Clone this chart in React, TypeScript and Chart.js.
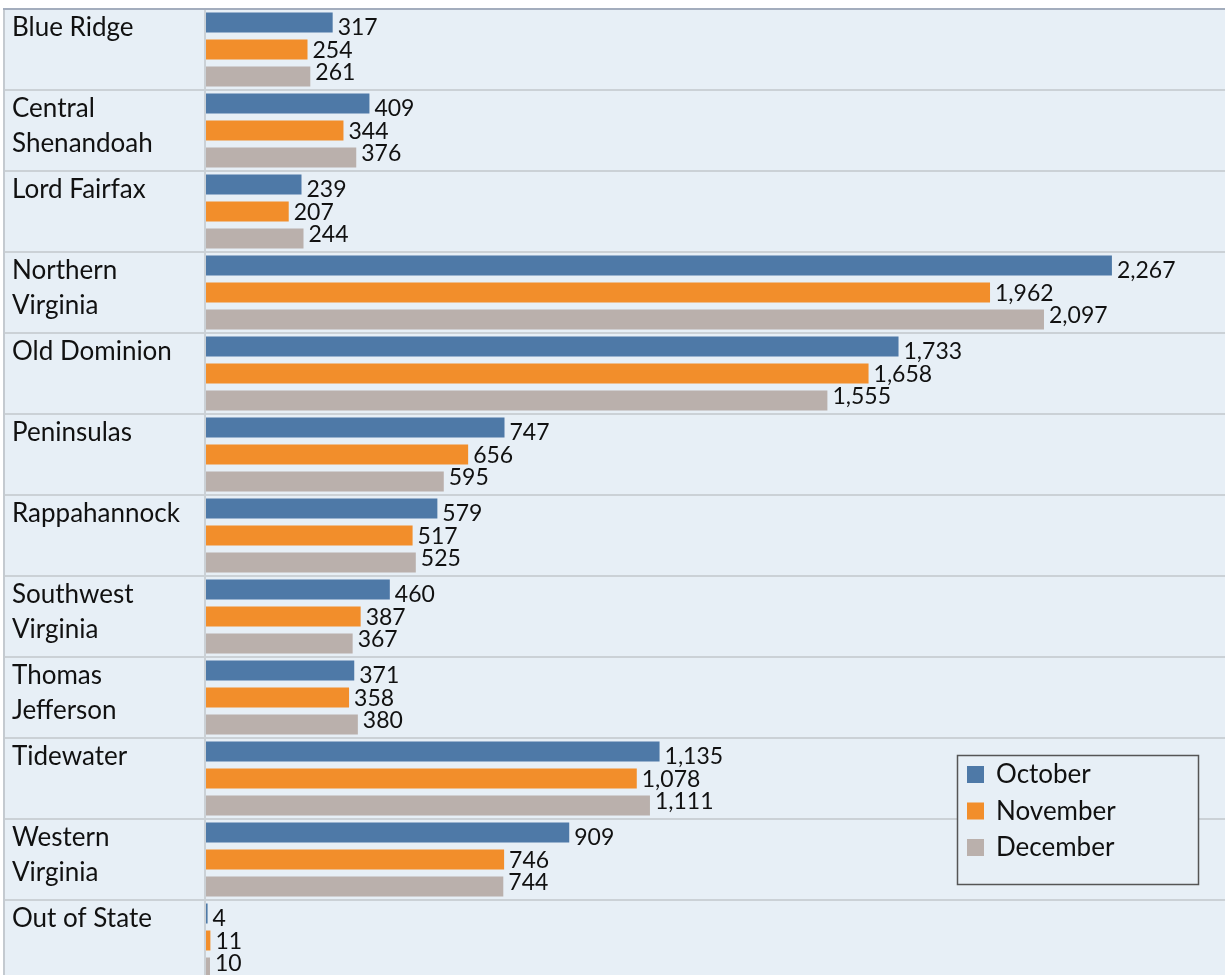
import React, { useEffect, useRef } from "react";
import { Chart, registerables } from "chart.js";

Chart.register(...registerables);

const categories: string[][] = [
  ["Blue Ridge"],
  ["Central", "Shenandoah"],
  ["Lord Fairfax"],
  ["Northern", "Virginia"],
  ["Old Dominion"],
  ["Peninsulas"],
  ["Rappahannock"],
  ["Southwest", "Virginia"],
  ["Thomas", "Jefferson"],
  ["Tidewater"],
  ["Western", "Virginia"],
  ["Out of State"],
];

const seriesNames = ["October", "November", "December"];
const october = [317, 409, 239, 2267, 1733, 747, 579, 460, 371, 1135, 909, 4];
const november = [254, 344, 207, 1962, 1658, 656, 517, 387, 358, 1078, 746, 11];
const december = [261, 376, 244, 2097, 1555, 595, 525, 367, 380, 1111, 744, 10];
const seriesColors = ["#4e79a7", "#f28e2b", "#bab0ac"];

const BG = "#e7eff6";
const SEP = "#cbd1d6";
const FONT = "Lato, 'Open Sans', sans-serif";

const tablePlugin = {
  id: "tablePlugin",
  beforeDraw(chart: any) {
    const { ctx, chartArea, scales } = chart;
    const y = scales.y;
    const n = categories.length;
    const rowH = (chartArea.bottom - chartArea.top) / n;
    ctx.save();
    ctx.fillStyle = "#ffffff";
    ctx.fillRect(0, 0, chart.width, chart.height);
    ctx.fillStyle = BG;
    ctx.fillRect(4, chartArea.top, chart.width - 4, chartArea.bottom - chartArea.top);
    ctx.strokeStyle = SEP;
    ctx.lineWidth = 2;
    for (let i = 1; i < n; i++) {
      const yy = Math.round(y.getPixelForValue(i) - rowH / 2);
      ctx.beginPath();
      ctx.moveTo(4, yy);
      ctx.lineTo(chart.width, yy);
      ctx.stroke();
    }
    ctx.beginPath();
    ctx.moveTo(chartArea.left - 1, chartArea.top);
    ctx.lineTo(chartArea.left - 1, chartArea.bottom);
    ctx.stroke();
    ctx.strokeStyle = "#c4cad0";
    ctx.beginPath();
    ctx.moveTo(4, chartArea.top);
    ctx.lineTo(4, chartArea.bottom);
    ctx.stroke();
    ctx.strokeStyle = "#a3adbd";
    ctx.lineWidth = 2;
    ctx.beginPath();
    ctx.moveTo(3, chartArea.top);
    ctx.lineTo(chart.width, chartArea.top);
    ctx.stroke();
    ctx.restore();
  },
  afterDatasetsDraw(chart: any) {
    const { ctx, chartArea, scales } = chart;
    const y = scales.y;
    const n = categories.length;
    const rowH = (chartArea.bottom - chartArea.top) / n;
    ctx.save();
    ctx.fillStyle = "#111111";
    ctx.font = `26px ${FONT}`;
    ctx.textAlign = "left";
    ctx.textBaseline = "alphabetic";
    categories.forEach((lines, i) => {
      const top = y.getPixelForValue(i) - rowH / 2;
      lines.forEach((line, j) => {
        ctx.fillText(line, 12, top + 27 + j * 35);
      });
    });
    ctx.font = `23px ${FONT}`;
    ctx.textBaseline = "middle";
    chart.data.datasets.forEach((ds: any, di: number) => {
      const meta = chart.getDatasetMeta(di);
      meta.data.forEach((bar: any, i: number) => {
        const v = ds.data[i];
        const ty = y.getPixelForValue(i) + (di - 1) * 22.5 + 1;
        ctx.fillText(v.toLocaleString("en-US"), bar.x + 5, ty);
      });
    });
    const lx = 957, ly = 755, lw = 241, lh = 129;
    ctx.fillStyle = BG;
    ctx.fillRect(lx, ly, lw, lh);
    ctx.strokeStyle = "#555555";
    ctx.lineWidth = 1.5;
    ctx.strokeRect(lx + 0.5, ly + 0.5, lw, lh);
    ctx.font = `26px ${FONT}`;
    chart.data.datasets.forEach((ds: any, di: number) => {
      const cy = 774 + di * 36.5;
      ctx.fillStyle = ds.backgroundColor;
      ctx.fillRect(967, cy - 8, 17, 17);
      ctx.fillStyle = "#111111";
      ctx.textBaseline = "middle";
      ctx.fillText(ds.label, 996, cy + 1);
    });
    ctx.restore();
  },
};

export default function App() {
  const ref = useRef<HTMLCanvasElement | null>(null);
  useEffect(() => {
    if (!ref.current) return;
    const seriesData = [october, november, december];
    const chart = new Chart(ref.current, {
      type: "bar",
      data: {
        labels: categories.map((c) => c.join(" ")),
        datasets: seriesNames.map((name, i) => ({
          label: name,
          data: seriesData[i],
          backgroundColor: seriesColors[i],
          borderWidth: 0,
          categoryPercentage: 1.0,
          barPercentage: 0.74,
        })),
      },
      options: {
        indexAxis: "y",
        responsive: false,
        animation: false,
        devicePixelRatio: 1,
        layout: { padding: { top: 9, bottom: 3, left: 206, right: 0 } },
        plugins: {
          legend: { display: false },
          tooltip: { enabled: false },
        },
        scales: {
          x: { display: false, min: 0, max: 2550 },
          y: { display: false },
        },
      },
      plugins: [tablePlugin],
    });
    return () => chart.destroy();
  }, []);
  return (
    <div style={{ position: "absolute", left: 0, top: 0, width: 1225, height: 975, overflow: "hidden" }}>
      <canvas ref={ref} width={1225} height={984} style={{ display: "block" }} />
    </div>
  );
}
